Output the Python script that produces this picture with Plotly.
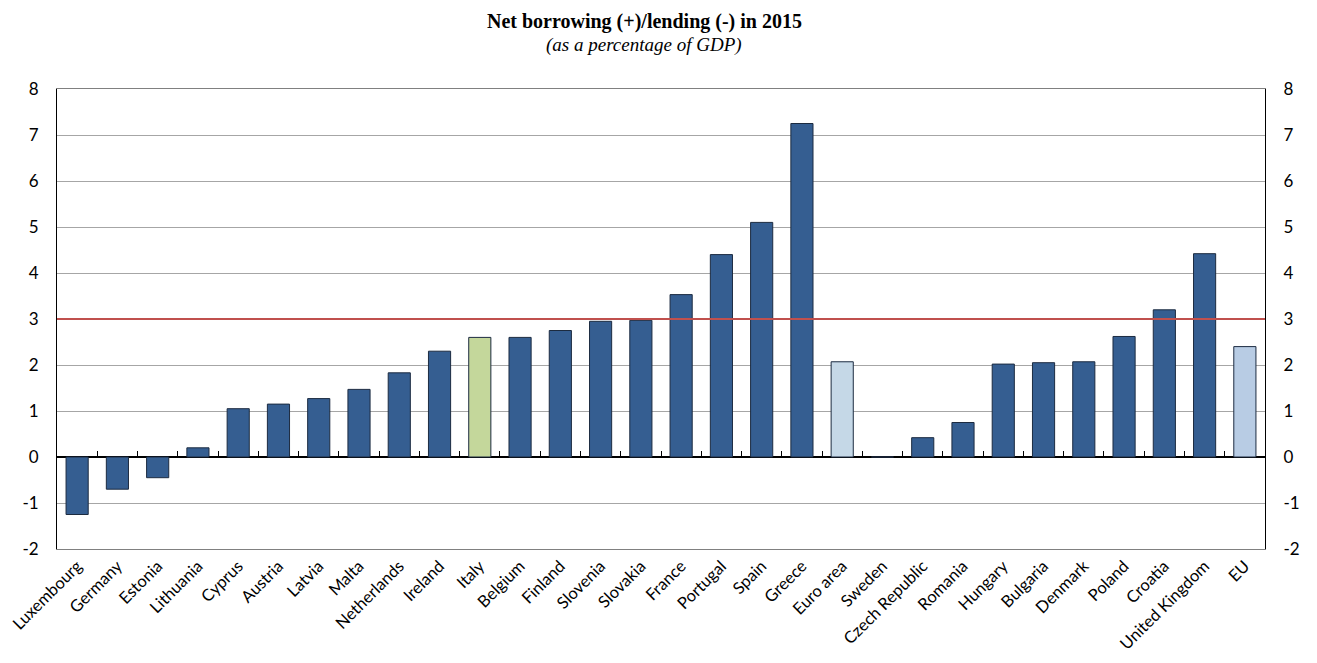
import plotly.graph_objects as go

countries = ["Luxembourg", "Germany", "Estonia", "Lithuania", "Cyprus", "Austria", "Latvia", "Malta",
             "Netherlands", "Ireland", "Italy", "Belgium", "Finland", "Slovenia", "Slovakia", "France",
             "Portugal", "Spain", "Greece", "Euro area", "Sweden", "Czech Republic", "Romania", "Hungary",
             "Bulgaria", "Denmark", "Poland", "Croatia", "United Kingdom", "EU"]
values = [-1.25, -0.7, -0.45, 0.2, 1.05, 1.15, 1.27, 1.47,
          1.83, 2.3, 2.6, 2.6, 2.75, 2.95, 2.97, 3.53,
          4.4, 5.1, 7.25, 2.07, 0.0, 0.42, 0.75, 2.02,
          2.05, 2.07, 2.62, 3.2, 4.42, 2.4]
threshold = 3
y_ticks = list(range(-2, 9))
y_ticktext = [str(v) for v in y_ticks]

DARK = "#355E91"
colors = []
for c in countries:
    if c == "Italy":
        colors.append("#C4D79B")
    elif c == "Euro area":
        colors.append("#C5D8E7")
    elif c == "EU":
        colors.append("#B8CCE4")
    else:
        colors.append(DARK)

fig = go.Figure()
fig.add_trace(go.Bar(x=countries, y=values, marker=dict(color=colors, line=dict(color="#1C2B40", width=1)),
                     width=0.55, showlegend=False))
# invisible trace for the right axis
fig.add_trace(go.Scatter(x=[countries[0]], y=[0], yaxis="y2", mode="markers",
                         marker=dict(opacity=0), showlegend=False, hoverinfo="skip"))
# invisible trace for the tick-mark axis at zero
fig.add_trace(go.Scatter(x=[0], y=[0], xaxis="x2", mode="markers",
                         marker=dict(opacity=0), showlegend=False, hoverinfo="skip"))

fig.add_shape(type="line", xref="paper", x0=0, x1=1, yref="y", y0=threshold, y1=threshold,
              line=dict(color="#C0504D", width=2), layer="above")

ymin, ymax = -2, 8
tickfont = dict(family="Lato, Noto Sans, sans-serif", size=17, color="#000")
fig.update_layout(
    width=1317, height=663,
    margin=dict(l=49, r=60, t=81, b=122),
    paper_bgcolor="white", plot_bgcolor="white",
    bargap=0.45,
    xaxis=dict(type="category", tickangle=-45, automargin=False,
               tickfont=dict(family="Lato, Noto Sans, sans-serif", size=16.5, color="#000"),
               showline=True, linecolor="#808080", linewidth=1, mirror=True, ticks="", showgrid=False,
               range=[-0.5, len(countries) - 0.5]),
    xaxis2=dict(type="linear", overlaying="x", anchor="free", position=(0 - ymin) / (ymax - ymin), side="bottom",
                range=[-0.5, len(countries) - 0.5], tickmode="linear", tick0=-0.5, dtick=1,
                ticks="inside", ticklen=6, tickcolor="#000", tickwidth=1, showticklabels=False,
                showline=False, showgrid=False, zeroline=False, automargin=False),
    yaxis=dict(range=[ymin, ymax], tickvals=y_ticks, ticktext=y_ticktext, tickfont=tickfont, automargin=False,
               showgrid=True, gridcolor="#A6A6A6",
               gridwidth=1, zeroline=True, zerolinecolor="#000", zerolinewidth=1.5,
               showline=True, linecolor="#000", linewidth=1, ticks="", ticklabelstandoff=14),
    yaxis2=dict(range=[ymin, ymax], tickvals=y_ticks, ticktext=y_ticktext, tickfont=tickfont, overlaying="y",
                side="right", automargin=False,
                showgrid=False, zeroline=False, showline=True, linecolor="#000", linewidth=1, ticks="",
                ticklabelstandoff=14),
    annotations=[
        dict(text="<b>Net borrowing (+)/lending (-) in 2015</b>", xref="paper", yref="paper",
             x=0.486, y=1, yshift=80, showarrow=False, xanchor="center", yanchor="top", borderpad=0,
             font=dict(family="Liberation Serif, serif", size=20, color="#000")),
        dict(text="<i>(as a percentage of GDP)</i>", xref="paper", yref="paper",
             x=0.486, y=1, yshift=44, showarrow=False, xanchor="center", yanchor="middle",
             font=dict(family="Liberation Serif, serif", size=19, color="#000")),
    ],
)

fig.write_html("out.html")
